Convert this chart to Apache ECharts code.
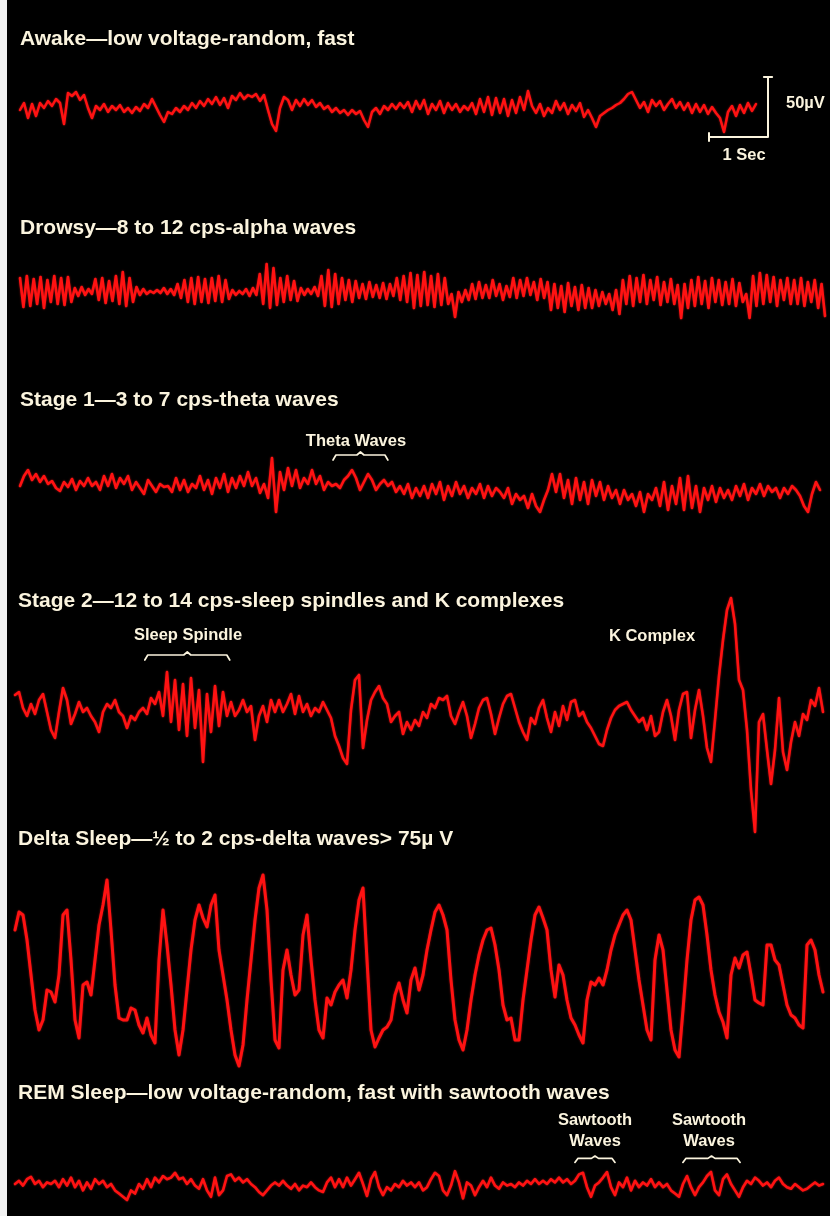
<!DOCTYPE html>
<html>
<head>
<meta charset="utf-8">
<script src="https://cdn.jsdelivr.net/npm/echarts/dist/echarts.min.js"></script>
<style>
  html, body { margin: 0; padding: 0; background: #000; }
  #chart { width: 830px; height: 1216px; }
</style>
</head>
<body>
<div id="chart"></div>
<script>
// EEG sample traces for each sleep stage. Values are deflections from the
// trace's own baseline in display units (1.2 units = 1 µV), positive = up.

const awake = [
  -4,3,-12,2,-10,3,-2,5,0,7,
  3,-18,13,10,14,6,11,-2,-12,0,
  -4,2,-6,0,-4,1,-6,-2,-7,-1,
  -5,2,-2,7,-1,-9,-16,-6,-8,-2,
  -6,0,-4,3,-2,5,0,7,2,9,
  1,8,-2,10,6,13,7,11,9,12,
  5,11,-4,-18,-25,-2,9,6,-4,6,
  0,7,1,6,-1,3,-3,0,-6,-2,
  -7,-4,-9,-4,-8,-5,-14,-21,-6,-2,
  -8,0,-4,2,-3,3,-2,4,-6,5,
  -3,6,-8,2,-4,5,-7,3,-4,2,
  -6,0,-4,3,-8,7,-6,9,-9,8,
  -7,7,-10,6,-7,9,-4,15,0,-7,
  2,-10,-2,-7,5,-4,3,-8,1,-5,
  3,-11,-4,-12,-21,-10,-7,-4,-2,1,
  3,7,12,14,6,-2,4,-6,6,0,
  5,-4,2,7,-2,4,-4,3,-7,2,
  -6,1,-8,-1,-7,-12,-26,-6,0,-10,
  1,-7,3,-5,2
];

const drowsy = [
  12,-17,14,-16,11,-14,13,-18,10,-12,14,-14,12,-15,13,-12,
  2,-6,3,-5,1,-4,
  11,-10,12,-13,9,-11,
  14,-14,18,-16,12,-12,
  3,-5,1,-4,-1,-3,0,-3,2,-4,1,-5,
  6,-8,10,-12,12,-14,13,-12,11,-13,
  12,-11,14,-12,10,-9,
  0,-5,-1,-4,1,-6,2,-5,
  16,-14,26,-18,22,-15,
  12,-12,14,-10,9,-11,
  2,-5,1,-4,3,-6,
  14,-16,20,-17,16,-14,
  12,-10,10,-12,9,-8,
  6,-9,8,-7,5,-8,7,-9,6,-6,
  12,-10,14,-12,
  17,-18,15,-16,18,-15,14,-17,16,-15,12,-14,
  -4,-27,
  -2,-12,0,-10,6,-9,8,-8,5,-8,10,-6,6,-10,4,-7,
  12,-8,10,-6,12,-5,8,-10,11,-8,
  8,-20,6,-18,4,-22,7,-16,3,-20,5,-18,
  2,-18,0,-16,-2,-14,-4,-20,0,-24,
  10,-14,14,-16,12,-12,15,-14,10,-10,13,-15,8,-12,11,-14,
  5,-28,6,-18,
  10,-16,13,-14,9,-18,12,-12,10,-15,8,-14,11,-16,7,-12,
  -4,-28,
  14,-16,17,-14,15,-12,13,-16,10,-10,12,-14,
  10,-14,12,-16,8,-12,10,-18,6,-26
];

const stage1 = [
  2,12,18,8,14,6,12,4,7,0,
  -3,6,1,9,-2,7,2,10,2,6,
  -2,12,2,14,0,10,4,12,-2,6,
  0,-6,8,2,-4,4,1,2,-4,10,
  -2,8,-4,4,0,12,-2,8,-6,10,
  0,14,-4,10,0,12,2,16,2,10,
  -5,4,-10,30,-24,16,-2,20,2,18,
  0,10,4,18,4,12,-2,6,2,4,
  0,8,12,18,10,-2,6,14,8,-2,
  4,8,2,6,-4,2,-6,4,-10,0,
  -8,2,-10,4,-6,6,-12,2,-8,6,
  -6,2,-10,0,-6,4,-10,2,-8,0,
  -4,-10,0,-16,-6,-12,-8,-20,-6,-18,
  -24,-12,-2,14,-4,14,-10,8,-16,10,
  -12,6,-16,8,-8,6,-12,2,-10,-2,
  -16,-2,-12,-6,-18,-4,-24,-6,-12,0,
  -18,6,-22,2,-16,10,-22,12,-20,2,
  -24,0,-12,2,-14,0,-10,-2,-12,2,
  -8,4,-12,0,-6,4,-8,2,-4,0,
  -10,0,-6,2,-2,-8,-18,-24,-6,6,
  -2
];

const stage2 = [
  13,16,0,-8,4,-6,8,14,-4,-22,
  -30,-4,20,8,-16,-6,6,-4,0,-8,
  -14,-24,-4,4,0,8,-4,-8,-20,-8,
  -12,-4,0,-6,10,4,16,-8,36,-14,
  28,-22,24,-28,30,-20,18,-54,14,-24,
  22,-18,16,-8,6,-8,-2,8,-4,2,
  -32,-8,2,-14,8,-4,8,-4,4,14,
  -6,12,-4,4,-8,0,-4,6,-2,-10,
  -28,-38,-50,-56,-2,28,33,-40,-12,8,
  16,22,10,4,-14,-8,-4,-26,-14,-22,
  -12,-18,-4,-10,4,0,10,8,12,-8,
  -16,-4,6,-8,-30,-16,0,8,10,-6,
  -26,-10,4,12,14,0,-14,-24,-32,-10,
  -16,0,8,-10,-24,-4,-18,2,-12,6,
  8,-8,-4,-14,-20,-28,-36,-38,-22,-10,
  -2,2,4,6,-2,-8,-14,-10,-22,-8,
  -28,-24,-4,8,-8,-32,-2,14,16,-30,
  -2,18,-8,-40,-54,-12,32,68,98,110,
  84,28,18,-22,-82,-124,-14,-6,-42,-76,
  -42,10,-44,-62,-34,-14,-28,-6,-12,8,
  2,20,-4
];

const delta = [
  30,48,45,20,-15,-50,-70,-60,-30,-32,
  -42,-15,45,50,0,-60,-78,-25,-22,-35,
  0,35,55,80,30,-25,-58,-60,-60,-48,
  -50,-65,-73,-58,-75,-83,0,50,15,-25,
  -70,-95,-70,-30,10,40,55,42,33,55,
  65,10,-15,-40,-70,-95,-106,-85,-40,0,
  40,72,85,50,-20,-80,-88,-10,10,-15,
  -35,-30,25,45,0,-40,-70,-78,-38,-45,
  -32,-25,-20,-38,-10,30,60,72,0,-70,
  -87,-78,-70,-67,-60,-35,-23,-40,-53,-20,
  -8,-30,-15,10,30,48,55,45,30,-20,
  -60,-80,-90,-70,-40,-15,5,20,30,32,
  15,-10,-45,-60,-58,-80,-80,-40,-10,20,
  45,53,42,30,-10,-37,-5,-15,-40,-58,
  -65,-75,-83,-40,-22,-25,-18,-25,-10,10,
  25,35,45,50,40,10,-20,-45,-70,-80,
  0,25,10,-30,-70,-90,-97,-50,0,40,
  60,63,55,25,-10,-35,-52,-62,-78,-15,
  2,-8,5,8,-15,-40,-43,-45,15,15,
  0,-5,-25,-45,-55,-58,-65,-68,15,20,
  10,-15,-32
];

const rem = [
  0,4,-2,6,9,0,4,-4,2,0,
  4,-4,6,-2,8,-4,4,-8,2,-6,
  6,0,4,-4,0,-8,-12,-16,-20,-8,
  -12,0,-6,6,-4,8,2,10,6,8,
  14,6,8,0,6,-2,-6,6,-8,-16,
  8,-14,-8,10,12,4,8,2,6,0,
  -4,-10,-14,-8,-2,2,-2,4,-2,-6,
  0,-8,-2,-4,2,-4,-8,-10,2,8,
  -4,6,-4,8,-2,6,14,0,-15,6,
  15,-4,-14,-4,-8,0,-4,4,-2,2,
  -4,2,-8,-4,6,14,10,-8,-14,-2,
  16,2,-18,2,-2,-14,-4,4,-4,8,
  -2,-6,2,-2,0,-4,2,-2,4,0,
  6,0,4,0,6,2,8,2,6,0,
  4,12,14,-4,-16,-2,2,8,15,-4,
  -14,2,-4,8,-8,4,-4,2,-2,6,
  -4,2,-4,0,-8,-12,-16,0,10,-4,
  -14,-4,2,10,15,-8,-14,6,12,0,
  -8,-16,-4,4,0,8,4,-2,2,-4,
  4,8,0,-4,-6,0,-4,-8,-6,-2,
  2,-2,0
];

const stageTitles = [
  'Awake\u2014low voltage-random, fast',
  'Drowsy\u20148 to 12 cps-alpha waves',
  'Stage 1\u20143 to 7 cps-theta waves',
  'Stage 2\u201412 to 14 cps-sleep spindles and K complexes',
  'Delta Sleep\u2014\u00bd to 2 cps-delta waves> 75\u00b5 V',
  'REM Sleep\u2014low voltage-random, fast with sawtooth waves'
];

// Annotated stretches, in seconds along the recording.
const annotations = [
  { stage: 2, from: 5.39, to: 6.32 },
  { stage: 3, from: 2.20, to: 3.64 },
  { stage: 5, from: 9.49, to: 10.17 },
  { stage: 5, from: 11.32, to: 12.29 }
];

// Calibration: 1 second horizontally, 50 µV vertically.
const SCALE_SEC = 1;
const SCALE_UV = 50;
const UNITS_PER_UV = 1.2;

// ---- layout ----
const PX_PER_SEC = 59;
const GRID_LEFT = 15;
const GRID_WIDTH = 810;
const SPAN_SEC = GRID_WIDTH / PX_PER_SEC;
const secAt = px => (px - GRID_LEFT) / PX_PER_SEC;

const layout = [
  { values: awake,  x0: 20, x1: 756, base: 106,  half: 40,  titleY: 39,   lw: 2.5 },
  { values: drowsy, x0: 20, x1: 825, base: 290,  half: 40,  titleY: 228,  lw: 2.6 },
  { values: stage1, x0: 20, x1: 820, base: 488,  half: 45,  titleY: 400,  lw: 2.6 },
  { values: stage2, x0: 15, x1: 823, base: 708,  half: 130, titleY: 601,  lw: 2.6 },
  { values: delta,  x0: 15, x1: 823, base: 960,  half: 120, titleY: 839,  lw: 3 },
  { values: rem,    x0: 15, x1: 823, base: 1192, half: 40,  titleY: 1093, lw: 2.6 }
];

const TRACE = '#ff1212';
const INK = '#fbf4de';

const grids = [], xAxes = [], yAxes = [], series = [];

layout.forEach((s, i) => {
  grids.push({ left: GRID_LEFT, width: GRID_WIDTH, top: s.base - s.half, height: s.half * 2 });
  xAxes.push({ gridIndex: i, type: 'value', min: 0, max: SPAN_SEC, show: false });
  yAxes.push({ gridIndex: i, type: 'value', min: -s.half, max: s.half, show: false });
  const n = s.values.length;
  const t0 = secAt(s.x0);
  const dt = (secAt(s.x1) - t0) / (n - 1);
  series.push({
    type: 'line', xAxisIndex: i, yAxisIndex: i,
    data: s.values.map((v, k) => [t0 + k * dt, v]),
    showSymbol: false, clip: false, silent: true,
    lineStyle: { color: TRACE, width: s.lw, cap: 'round', join: 'round',
                 shadowColor: 'rgba(255,30,30,0.6)', shadowBlur: 2 }
  });
});

function inkLine(gridIdx, pts, width) {
  series.push({
    type: 'line', xAxisIndex: gridIdx, yAxisIndex: gridIdx,
    data: pts, showSymbol: false, clip: false, silent: true,
    lineStyle: { color: INK, width: width || 1.6, cap: 'round', join: 'round' }
  });
}

// brackets under the annotation labels
const bracketLevel = { 2: 33, 3: 53, 5: 32 };
annotations.forEach(a => {
  const L = bracketLevel[a.stage];
  const mid = (a.from + a.to) / 2;
  inkLine(a.stage, [
    [a.from, L - 5], [a.from + 0.05, L], [mid - 0.06, L], [mid, L + 3],
    [mid + 0.06, L], [a.to - 0.05, L], [a.to, L - 5]
  ], 1.7);
});

// calibration bar in the Awake panel
const barEnd = secAt(768);
const barLow = -31;
const barHigh = barLow + SCALE_UV * UNITS_PER_UV;
inkLine(0, [[barEnd - SCALE_SEC, barLow], [barEnd, barLow], [barEnd, barHigh]], 2);
inkLine(0, [[barEnd - SCALE_SEC, barLow - 4], [barEnd - SCALE_SEC, barLow + 4]], 2);
inkLine(0, [[barEnd - 0.07, barHigh], [barEnd + 0.07, barHigh]], 2);

// ---- text ----
const FONT = '"Liberation Sans", Arial, sans-serif';
function txt(str, x, y, size, align) {
  return {
    type: 'text', x: x, y: y, silent: true,
    style: {
      text: str, fill: INK,
      font: 'bold ' + size + 'px ' + FONT,
      align: align || 'left', verticalAlign: 'middle',
      textAlign: align || 'left', textVerticalAlign: 'middle',
      shadowColor: 'rgba(255,244,214,0.55)', shadowBlur: 3
    }
  };
}

const graphics = [
  { type: 'rect', shape: { x: 0, y: 0, width: 7, height: 1216 }, style: { fill: '#f2f2f2' }, silent: true }
];
stageTitles.forEach((t, i) => {
  graphics.push(txt(t, i < 3 ? 20 : 18, layout[i].titleY, 21));
});
graphics.push(txt('Theta Waves', 356, 441, 16.5, 'center'));
graphics.push(txt('Sleep Spindle', 188, 635, 16.5, 'center'));
graphics.push(txt('K Complex', 652, 636, 16.5, 'center'));
graphics.push(txt('Sawtooth', 595, 1120, 16.5, 'center'));
graphics.push(txt('Waves', 595, 1141, 16.5, 'center'));
graphics.push(txt('Sawtooth', 709, 1120, 16.5, 'center'));
graphics.push(txt('Waves', 709, 1141, 16.5, 'center'));
graphics.push(txt(SCALE_UV + '\u00b5V', 786, 103, 16.5, 'left'));
graphics.push(txt(SCALE_SEC + ' Sec', 744, 155, 16.5, 'center'));

const chart = echarts.init(document.getElementById('chart'), null, { renderer: 'canvas' });
chart.setOption({
  backgroundColor: '#000',
  animation: false,
  grid: grids,
  xAxis: xAxes,
  yAxis: yAxes,
  series: series,
  graphic: graphics
});
</script>
</body>
</html>
